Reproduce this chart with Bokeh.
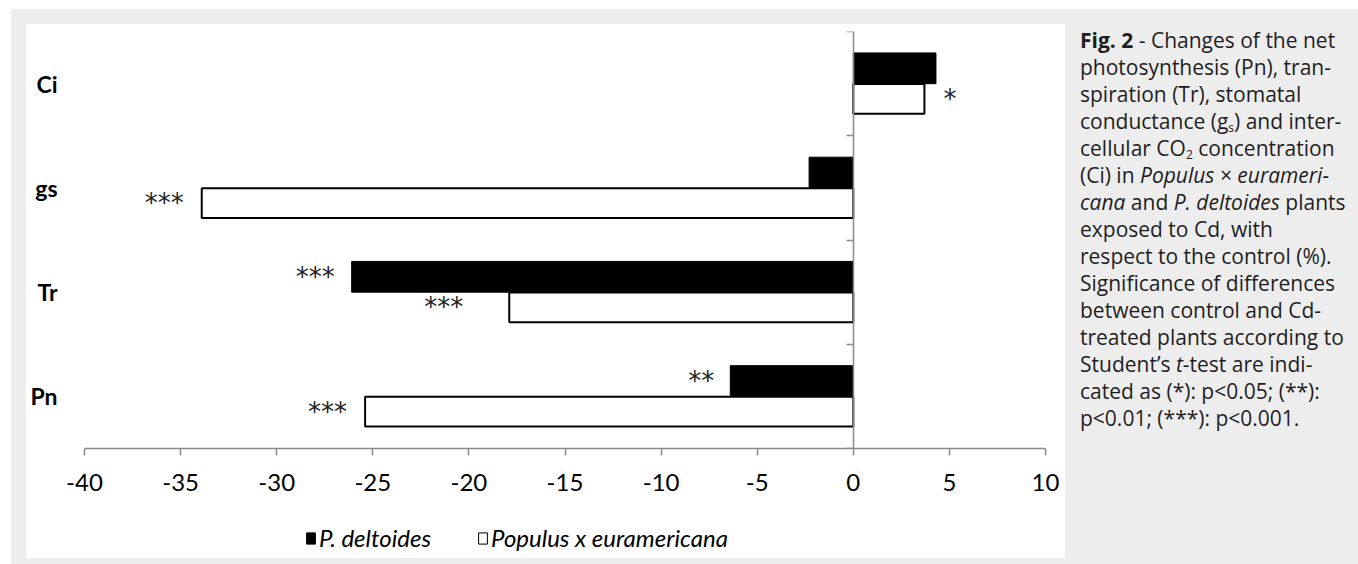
from bokeh.plotting import figure
from bokeh.models import (ColumnDataSource, Range1d, LinearAxis, FixedTicker,
                          Legend, LegendItem, Div)
from bokeh.transform import dodge
from bokeh.layouts import row, column
from bokeh.embed import file_html
from bokeh.resources import INLINE
from bokeh.core.properties import value

# ---------------- data ----------------
categories = ["Ci", "gs", "Tr", "Pn"]
p_deltoides = [4.3, -2.3, -26.1, -6.4]
p_euramericana = [3.7, -33.9, -17.9, -25.4]
sig_deltoides = ["", "", "***", "**"]
sig_euramericana = ["*", "***", "***", "***"]
x_ticks = [-40, -35, -30, -25, -20, -15, -10, -5, 0, 5, 10]
series_names = ["P. deltoides", "Populus x euramericana"]

# ---------------- style ----------------
FONT = "Lato"
STAR_FONT = "DejaVu Sans"
AXIS_GRAY = "#8a8a8a"
BAR_H = 0.295
DODGE = 0.147
star_gap_deltoides = [19, 17, 17, 16]
star_gap_euramericana = [19, 18, 46, 18]

n = len(categories)
ycenters = [n - 1 - i + 0.5 for i in range(n)]  # first category at the top

src = ColumnDataSource(dict(cat=categories, yc=ycenters, d=p_deltoides, e=p_euramericana))


def star_source(vals, sigs, gaps):
    keep = [i for i, s in enumerate(sigs) if s]
    return ColumnDataSource(dict(
        x=[vals[i] for i in keep],
        yc=[ycenters[i] for i in keep],
        t=[sigs[i] for i in keep],
        al=["left" if vals[i] >= 0 else "right" for i in keep],
        xo=[gaps[i] if vals[i] >= 0 else -gaps[i] for i in keep],
    ))


p = figure(width=1065, height=510,
           x_range=Range1d(x_ticks[0], x_ticks[-1]),
           y_range=Range1d(0, n),
           output_backend="svg", toolbar_location=None,
           min_border_left=84, min_border_right=20, min_border_top=31, min_border_bottom=62,
           border_fill_color=None, background_fill_color=None, outline_line_color=None)
p.styles = {"background": ("linear-gradient(#ffffff, #ffffff) 26px 24px / 1039px 486px no-repeat, "
                           "linear-gradient(#ededed, #ededed) 11px 9px / 1054px 501px no-repeat, #ffffff")}
p.xgrid.visible = False
p.ygrid.visible = False

r1 = p.hbar(y=dodge("yc", DODGE), left=0, right="d", height=BAR_H,
            source=src, fill_color="black", line_color="black", line_width=1)
r2 = p.hbar(y=dodge("yc", -DODGE), left=0, right="e", height=BAR_H - 0.01,
            source=src, fill_color="white", line_color="black", line_width=2)

p.text(x="x", y=dodge("yc", DODGE), text="t",
       source=star_source(p_deltoides, sig_deltoides, star_gap_deltoides),
       x_offset="xo", text_align="al", text_baseline="middle",
       text_font=value(STAR_FONT), text_font_size="26px", text_color="#222222")
p.text(x="x", y=dodge("yc", -DODGE), text="t",
       source=star_source(p_euramericana, sig_euramericana, star_gap_euramericana),
       x_offset="xo", text_align="al", text_baseline="middle",
       text_font=value(STAR_FONT), text_font_size="26px", text_color="#222222")

# category labels (left)
ya = p.yaxis[0]
ya.ticker = FixedTicker(ticks=ycenters)
ya.major_label_overrides = {yv: c for yv, c in zip(ycenters, categories)}
ya.axis_line_color = None
ya.major_tick_line_color = None
ya.minor_tick_line_color = None
ya.major_label_standoff = 21
ya.major_label_text_font = FONT
ya.major_label_text_font_style = "bold"
ya.major_label_text_font_size = "23px"
ya.major_label_text_color = "black"

# vertical axis at x = 0 with category boundary ticks (minor ticks, no labels)
vax = LinearAxis(fixed_location=0,
                 ticker=FixedTicker(ticks=[], minor_ticks=list(range(n + 1))),
                 axis_line_color=AXIS_GRAY, axis_line_width=1.5,
                 major_tick_line_color=None,
                 minor_tick_out=7, minor_tick_in=0, minor_tick_line_color=AXIS_GRAY,
                 minor_tick_line_width=1.5)
p.add_layout(vax, "left")

xa = p.xaxis[0]
xa.ticker = FixedTicker(ticks=x_ticks)
xa.major_label_overrides = {t: str(t) for t in x_ticks}
xa.axis_line_color = AXIS_GRAY
xa.axis_line_width = 1.5
xa.major_tick_line_color = AXIS_GRAY
xa.major_tick_line_width = 1.5
xa.major_tick_out = 7
xa.major_tick_in = 0
xa.minor_tick_line_color = None
xa.major_label_standoff = 18
xa.major_label_text_font = FONT
xa.major_label_text_font_size = "24px"
xa.major_label_text_color = "black"

# ---------------- legend strip (frame aligned with the chart above) ----------------
lf = figure(width=1065, height=54, x_range=Range1d(x_ticks[0], x_ticks[-1]),
            y_range=Range1d(n + 1, n + 2),  # the data bars stay out of view here
            x_axis_type=None, y_axis_type=None, min_border=0,
            output_backend="svg", toolbar_location=None,
            border_fill_color=None, background_fill_color=None, outline_line_color=None)
lf.styles = {"background": ("linear-gradient(#ffffff, #ffffff) 26px 0px / 1039px 48px no-repeat, "
                            "linear-gradient(#ededed, #ededed) 11px 0px / 1054px 54px no-repeat, #ffffff")}
lr1 = lf.hbar(y="yc", left=0, right="d", height=BAR_H, source=src,
              fill_color="black", line_color="black", line_width=1)
lr2 = lf.hbar(y="yc", left=0, right="e", height=BAR_H, source=src,
              fill_color="white", line_color="black", line_width=1)
legend = Legend(items=[LegendItem(label=series_names[0], renderers=[lr1]),
                       LegendItem(label=series_names[1], renderers=[lr2])],
                orientation="horizontal", location=(221, 12),
                glyph_width=11, glyph_height=14, label_standoff=3, spacing=46,
                padding=0, margin=0, border_line_color=None, background_fill_color=None,
                label_text_font=FONT, label_text_font_style="italic",
                label_text_font_size="24px", label_text_color="black")
lf.add_layout(legend, "center")

sub = '<span style="font-size:12px;vertical-align:-3px;line-height:0">{}</span>'
lines = [
    "<b>Fig. 2</b> - Changes of the net",
    "photosynthesis (Pn), tran-",
    "spiration (Tr), stomatal",
    "conductance (g" + sub.format("s") + ") and inter-",
    "cellular CO" + sub.format("2") + " concentration",
    "(Ci) in <i>Populus × eurameri-</i>",
    "<i>cana</i> and <i>P. deltoides</i> plants",
    "exposed to Cd, with",
    "respect to the control (%).",
    "Significance of differences",
    "between control and Cd-",
    "treated plants according to",
    "Student’s <i>t</i>-test are indi-",
    "cated as (*): p&lt;0.05; (**):",
    "p&lt;0.01; (***): p&lt;0.001.",
]
caption_html = ('<div style="font-family:\'Open Sans\';font-size:21px;line-height:27px;color:#1e1e1e;'
                'white-space:nowrap;padding:27px 0 0 15px">' + "<br>".join(lines) + "</div>")
caption = Div(text=caption_html, width=293, height=564, margin=0,
              styles={"background": "linear-gradient(#ededed, #ededed) 0px 9px / 100% 555px no-repeat, #ffffff"})

layout = row(column(p, lf), caption)
open("out.html", "w").write(file_html(layout, INLINE))
